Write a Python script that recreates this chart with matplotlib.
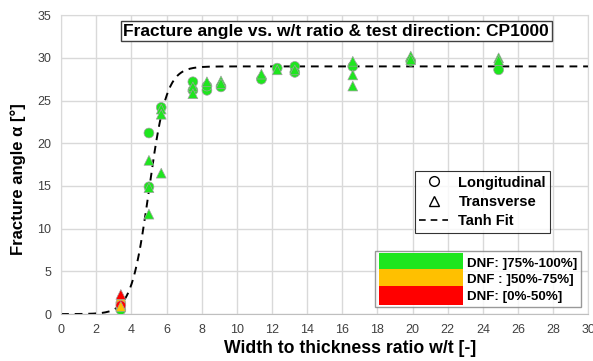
"""Fracture angle vs. w/t ratio, CP1000, with tanh fit."""

import numpy as np
import matplotlib
matplotlib.use('Agg')
import matplotlib.pyplot as plt
from matplotlib.lines import Line2D
from matplotlib.patches import Patch, Rectangle
from matplotlib.legend_handler import HandlerPatch

plt.rcParams['font.family'] = ['Liberation Sans', 'DejaVu Sans']

# DNF category colours
dnf_colors = {'hi': '#1ee61e', 'mid': '#ffc000', 'lo': '#ff0000'}
dnf_labels = ['DNF: ]75%-100%]', 'DNF : ]50%-75%]', 'DNF: [0%-50%]']

# Longitudinal (circles)
x_long = [3.4, 3.4, 3.4, 5.0, 5.0, 5.7, 7.5, 7.5, 8.3, 8.3, 9.1,
          11.4, 12.3, 13.3, 13.3, 16.6, 19.9, 24.9]
y_long = [0.5, 1.3, 1.0, 21.2, 14.9, 24.2, 27.2, 26.2, 26.2, 26.7, 26.6,
          27.5, 28.8, 29.0, 28.3, 29.0, 29.6, 28.6]
c_long = ['hi', 'mid', 'lo', 'hi', 'hi', 'hi', 'hi', 'hi', 'hi', 'hi', 'hi',
          'hi', 'hi', 'hi', 'hi', 'hi', 'hi', 'hi']

# Transverse (triangles)
x_trans = [3.4, 3.4, 5.0, 5.0, 5.0, 5.7, 5.7, 5.7, 7.5, 7.5, 8.3, 9.1, 9.1,
           11.4, 12.3, 13.3, 16.6, 16.6, 16.6, 19.9, 19.9, 24.9, 24.9]
y_trans = [2.3, 0.9, 18.0, 14.8, 11.7, 24.0, 23.4, 16.5, 26.6, 25.8, 27.2, 27.3, 27.0,
           28.1, 28.6, 28.6, 29.6, 28.0, 26.7, 30.2, 29.8, 30.0, 29.7]
c_trans = ['lo', 'mid', 'hi', 'hi', 'hi', 'hi', 'hi', 'hi', 'hi', 'hi', 'hi', 'hi', 'hi',
           'hi', 'hi', 'hi', 'hi', 'hi', 'hi', 'hi', 'hi', 'hi', 'hi']

# tanh fit parameters
alpha_max = 29.0
x_mid = 5.0
width = 1.0

fig = plt.figure(figsize=(5.93, 3.61), dpi=100)
ax = fig.add_axes([0.103, 0.130, 0.889, 0.828])

ax.set_xlim(0, 30)
ax.set_ylim(0, 35)
ax.set_xticks(np.arange(0, 31, 2))
ax.set_yticks(np.arange(0, 36, 5))
ax.grid(True, color='#d9d9d9', lw=1)
ax.set_axisbelow(True)
for s in ax.spines.values():
    s.set_color('#d9d9d9')
ax.spines['bottom'].set_color('#bfbfbf')
ax.tick_params(length=0, labelsize=9, colors='#404040', pad=7)

xf = np.linspace(0, 30, 300)
yf = alpha_max / 2 * (1 + np.tanh((xf - x_mid) / width))
ax.plot(xf, yf, color='black', lw=1.4, dashes=(4, 3), zorder=2)

ax.scatter(x_long, y_long, marker='o', s=50, c=[dnf_colors[c] for c in c_long],
           edgecolors='#a0a0a0', linewidths=0.5, zorder=3)
ax.scatter(x_trans, y_trans, marker='^', s=50, c=[dnf_colors[c] for c in c_trans],
           edgecolors='#a0a0a0', linewidths=0.5, zorder=3)

ax.set_xlabel('Width to thickness ratio w/t [-]', fontsize=12.7, fontweight='bold')
ax.set_ylabel('Fracture angle α [°]', fontsize=12.0, fontweight='bold')
ax.xaxis.set_label_coords(0.549, -0.088)
ax.yaxis.set_label_coords(-0.066, 0.453)

ax.text(0.522, 0.946, 'Fracture angle vs. w/t ratio & test direction: CP1000',
        transform=ax.transAxes, ha='center', va='center', fontsize=12.5,
        fontweight='bold', zorder=5,
        bbox=dict(facecolor='white', edgecolor='#404040', lw=1,
                  boxstyle='square,pad=0.15'))

h1 = [Line2D([], [], marker='o', ls='none', mfc='none', mec='black', ms=7),
      Line2D([], [], marker='^', ls='none', mfc='none', mec='black', ms=7),
      Line2D([], [], color='black', lw=1.2, dashes=(4, 3))]
leg1 = ax.legend(h1, ['Longitudinal', 'Transverse', 'Tanh Fit'], loc='upper right',
                 bbox_to_anchor=(0.928, 0.478), frameon=True, fancybox=False,
                 prop={'weight': 'bold', 'size': 10.5}, handlelength=2.0,
                 labelspacing=0.37, borderpad=0.3, handletextpad=0.7, borderaxespad=0)
leg1.get_frame().set_edgecolor('black')
leg1.get_frame().set_linewidth(0.8)
ax.add_artist(leg1)


def full_patch(legend, orig_handle, xdescent, ydescent, width, height, fontsize):
    # fill the whole handle box so the colour bands touch, nudged down to centre the text
    return Rectangle((-xdescent, -ydescent - 1.5), width, height + ydescent)


h2 = [Patch(facecolor=dnf_colors[k], edgecolor='none') for k in ['hi', 'mid', 'lo']]
leg2 = ax.legend(h2, dnf_labels, loc='lower right', bbox_to_anchor=(0.987, 0.023),
                 frameon=True, fancybox=False, prop={'weight': 'bold', 'size': 9.6},
                 handlelength=6.3, handleheight=1.48, labelspacing=0,
                 borderpad=0.3, handletextpad=0.3, borderaxespad=0,
                 handler_map={Patch: HandlerPatch(patch_func=full_patch)})
leg2.get_frame().set_edgecolor('#808080')
leg2.get_frame().set_linewidth(1)

fig.savefig('out.png', dpi=100)
